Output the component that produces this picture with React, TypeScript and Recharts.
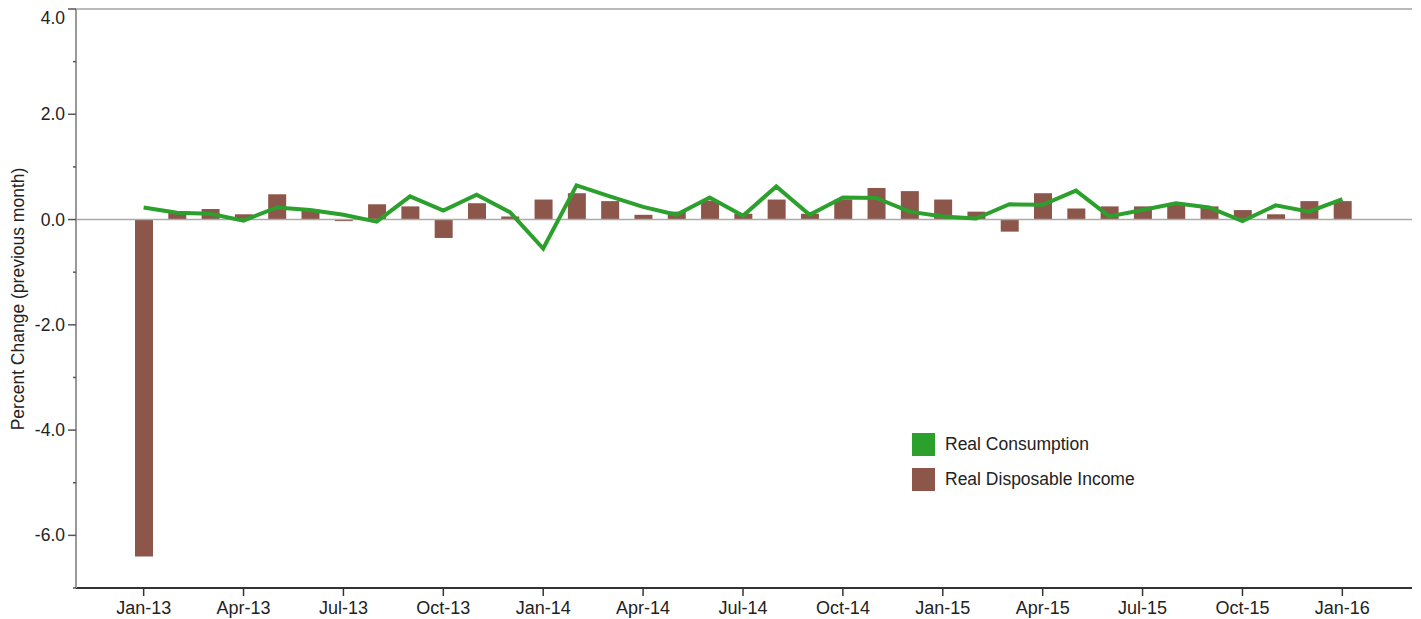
import React from 'react';
import {
  ComposedChart,
  Bar,
  Line,
  XAxis,
  YAxis,
  ReferenceLine,
} from 'recharts';

const months = [
  'Jan-13', 'Feb-13', 'Mar-13', 'Apr-13', 'May-13', 'Jun-13', 'Jul-13', 'Aug-13', 'Sep-13', 'Oct-13', 'Nov-13', 'Dec-13',
  'Jan-14', 'Feb-14', 'Mar-14', 'Apr-14', 'May-14', 'Jun-14', 'Jul-14', 'Aug-14', 'Sep-14', 'Oct-14', 'Nov-14', 'Dec-14',
  'Jan-15', 'Feb-15', 'Mar-15', 'Apr-15', 'May-15', 'Jun-15', 'Jul-15', 'Aug-15', 'Sep-15', 'Oct-15', 'Nov-15', 'Dec-15',
  'Jan-16',
];

const realDisposableIncome = [
  -6.4, 0.15, 0.2, 0.1, 0.48, 0.19, -0.03, 0.29, 0.25, -0.35, 0.31, 0.06,
  0.38, 0.5, 0.35, 0.09, 0.15, 0.36, 0.11, 0.38, 0.11, 0.38, 0.6, 0.54,
  0.38, 0.15, -0.23, 0.5, 0.21, 0.25, 0.25, 0.3, 0.25, 0.18, 0.1, 0.35,
  0.35,
];

const realConsumption = [
  0.23, 0.13, 0.11, -0.02, 0.23, 0.18, 0.09, -0.04, 0.44, 0.17, 0.47, 0.14,
  -0.55, 0.65, 0.44, 0.24, 0.09, 0.42, 0.07, 0.63, 0.09, 0.42, 0.41, 0.15,
  0.06, 0.02, 0.29, 0.28, 0.55, 0.06, 0.18, 0.31, 0.23, -0.03, 0.27, 0.15,
  0.39,
];

const yTicks = [-7, -6, -5, -4, -3, -2, -1, 0, 1, 2, 3, 4];
const yDomain: [number, number] = [-7, 4];

const GREEN = '#2ca02c';
const BROWN = '#8c564b';
const FONT = '"Liberation Sans", Arial, sans-serif';

const legendItems = [
  { name: 'Real Consumption', color: GREEN },
  { name: 'Real Disposable Income', color: BROWN },
];

const data = months.map((m, i) => ({
  month: m,
  income: realDisposableIncome[i],
  consumption: realConsumption[i],
}));

const YTick = (props: any) => {
  const { x, y, payload } = props;
  const v = payload.value as number;
  const major = v % 2 === 0;
  const dy = v === 4 ? 15 : 6;
  return (
    <g>
      <line x1={x - (major ? 8 : 3)} x2={x} y1={y} y2={y} stroke="#555" strokeWidth={1.5} />
      {major && (
        <text x={x - 11} y={y} dy={dy} textAnchor="end" fontSize={17.5} fill="#222" fontFamily={FONT}>
          {v.toFixed(1)}
        </text>
      )}
    </g>
  );
};

export default function App() {
  return (
    <div style={{ position: 'absolute', left: 0, top: 0, width: 1421, height: 619, background: '#fff', fontFamily: FONT }}>
      <ComposedChart
        width={1421}
        height={619}
        data={data}
        margin={{ top: 9, right: 9, bottom: 0, left: 0 }}
      >
        <XAxis
          dataKey="month"
          type="category"
          interval={2}
          padding={{ left: 51, right: 53 }}
          height={31}
          tickSize={8}
          tickMargin={5}
          axisLine={{ stroke: '#333', strokeWidth: 2 }}
          tickLine={{ stroke: '#333', strokeWidth: 1.5 }}
          tick={{ fontSize: 18, fill: '#222', fontFamily: FONT }}
        />
        <YAxis
          yAxisId="left"
          domain={yDomain}
          ticks={yTicks}
          interval={0}
          width={76}
          tickSize={0}
          tickMargin={0}
          tickLine={false}
          axisLine={{ stroke: '#999', strokeWidth: 2 }}
          tick={<YTick />}
          allowDataOverflow
        />
        <YAxis
          yAxisId="right"
          orientation="right"
          domain={yDomain}
          width={0}
          tick={false}
          tickLine={false}
          axisLine={{ stroke: '#777', strokeWidth: 2 }}
        />
        <ReferenceLine yAxisId="left" y={4} stroke="#bbb" strokeWidth={2} />
        <ReferenceLine yAxisId="left" y={0} stroke="#aaa" strokeWidth={1.5} />
        <Bar
          yAxisId="left"
          dataKey="income"
          name="Real Disposable Income"
          fill={BROWN}
          barSize={18}
          isAnimationActive={false}
        />
        <Line
          yAxisId="left"
          dataKey="consumption"
          name="Real Consumption"
          type="linear"
          stroke={GREEN}
          strokeWidth={4}
          dot={false}
          activeDot={false}
          isAnimationActive={false}
        />
      </ComposedChart>
      <div style={{ position: 'absolute', left: 912, top: 427, fontFamily: FONT, fontSize: 17.5, color: '#222' }}>
        {legendItems.map((it) => (
          <div key={it.name} style={{ display: 'flex', alignItems: 'center', height: 35 }}>
            <div style={{ width: 23, height: 23, background: it.color, marginRight: 10 }} />
            <span>{it.name}</span>
          </div>
        ))}
      </div>
      <div
        style={{
          position: 'absolute',
          left: 18,
          top: 299,
          transform: 'translate(-50%, -50%) rotate(-90deg)',
          whiteSpace: 'nowrap',
          fontSize: 17.5,
          color: '#222',
          fontFamily: FONT,
        }}
      >
        Percent Change (previous month)
      </div>
    </div>
  );
}
